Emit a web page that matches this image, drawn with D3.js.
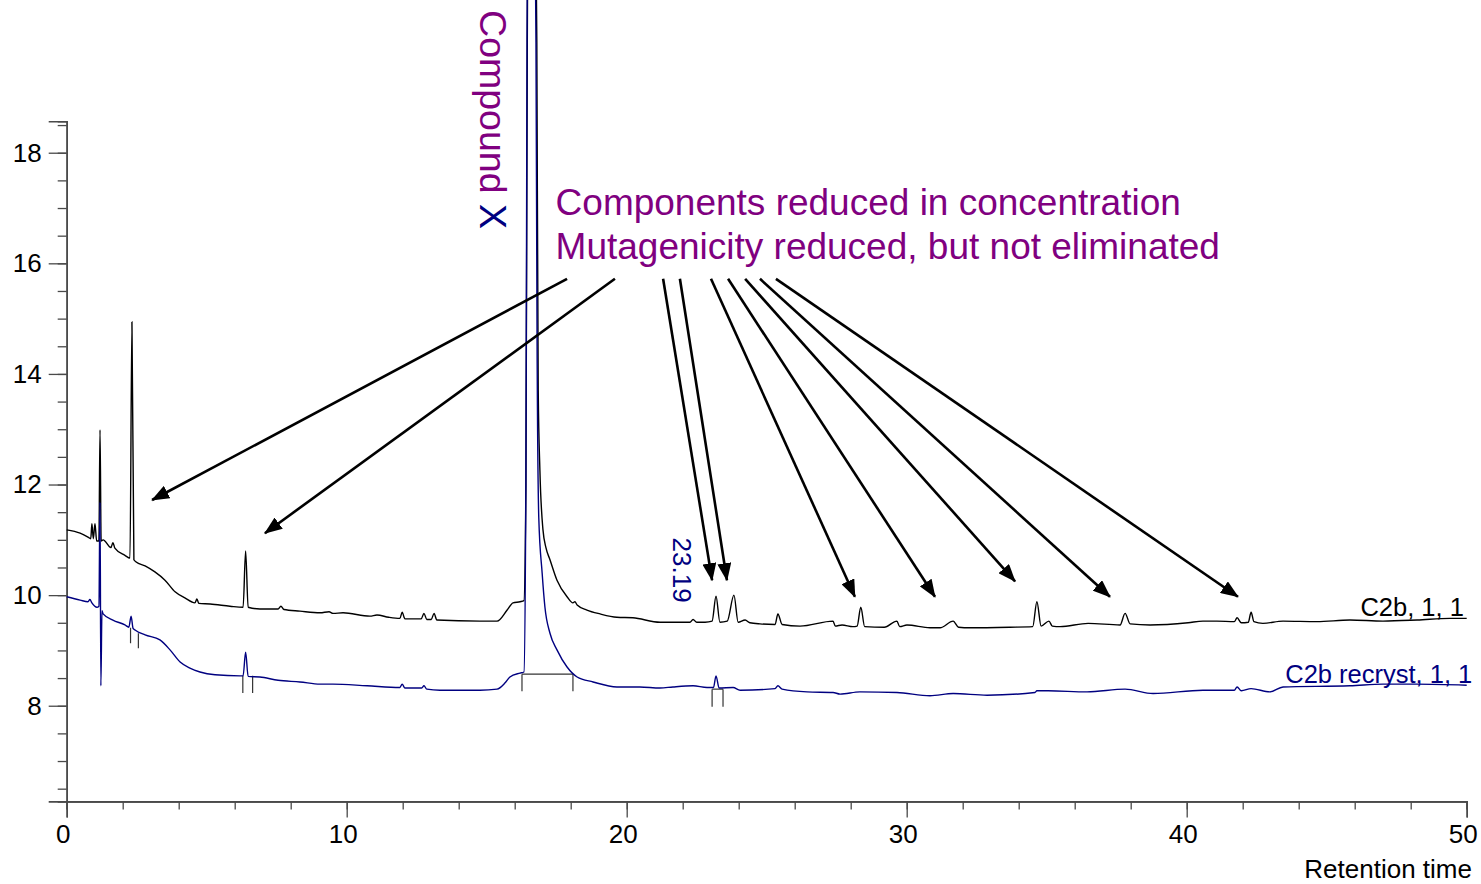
<!DOCTYPE html>
<html>
<head>
<meta charset="utf-8">
<script src="https://cdn.jsdelivr.net/npm/d3@7"></script>
<style>
  html, body { margin: 0; padding: 0; background: #fff; }
  svg { display: block; font-family: "Liberation Sans", Arial, sans-serif; }
</style>
</head>
<body>
<svg id="chart" width="1481" height="884"></svg>
<script>
// ---------------- DATA ----------------
// Axis domains / ticks
const xDomain = [0, 50];
const yDomain = [6.27, 18.57];
const xMajorTicks = [0, 10, 20, 30, 40, 50];
const xMinorTicks = d3.range(0, 50.01, 2);
const yMajorTicks = [8, 10, 12, 14, 16, 18];
const yMinorTicks = d3.range(6.5, 18.51, 0.5);
const xAxisTitle = "Retention time";

// Trace "C2b, 1, 1" (black): [retention time, signal]
const traceC2b = [
  [0, 11.18], [0.48, 11.12], [0.76, 11.05], [0.86, 11.02], [0.90, 11.29], [0.95, 11.02],
  [1.01, 11.29], [1.07, 10.98], [1.15, 10.98], [1.19, 12.99], [1.23, 10.98], [1.30, 11.00],
  [1.58, 10.86], [1.65, 10.95], [1.72, 10.85], [2.08, 10.72], [2.26, 10.67], [2.33, 14.94],
  [2.40, 10.64], [2.48, 10.60], [2.80, 10.53], [3.15, 10.42], [3.51, 10.27], [3.87, 10.06],
  [4.22, 9.95], [4.58, 9.86], [4.65, 9.93], [4.72, 9.85], [5.12, 9.84], [5.83, 9.80],
  [6.30, 9.78], [6.39, 10.80], [6.48, 9.78], [6.90, 9.75], [7.55, 9.75], [7.65, 9.80],
  [7.76, 9.74], [8.33, 9.71], [9.05, 9.68], [9.37, 9.70], [9.51, 9.67], [9.87, 9.68],
  [10.83, 9.62], [11.08, 9.64], [11.50, 9.60], [11.90, 9.58], [11.98, 9.69], [12.08, 9.57],
  [12.66, 9.57], [12.76, 9.67], [12.86, 9.56], [13.02, 9.56], [13.12, 9.67], [13.22, 9.55],
  [14.76, 9.53], [15.37, 9.53], [15.73, 9.73], [15.94, 9.86], [16.19, 9.88], [16.33, 9.90],
  [16.40, 12.0], [16.45, 20.0], [16.62, 30.0], [16.79, 20.0], [16.84, 13.7], [16.90, 12.26],
  [17.01, 11.18], [17.12, 10.85], [17.26, 10.64], [17.51, 10.27], [17.87, 9.97], [18.08, 9.86],
  [18.15, 9.88], [18.23, 9.82], [18.58, 9.73], [19.05, 9.66], [19.65, 9.60], [20.22, 9.59],
  [21.19, 9.51], [22.26, 9.51], [22.37, 9.56], [22.50, 9.51], [22.80, 9.51], [23.05, 9.53],
  [23.19, 9.98], [23.33, 9.51], [23.59, 9.53], [23.83, 10.00], [23.98, 9.51], [24.23, 9.55],
  [24.40, 9.50], [24.76, 9.48], [25.30, 9.47], [25.40, 9.66], [25.55, 9.47], [26.19, 9.44],
  [27.37, 9.53], [27.45, 9.44], [27.69, 9.46], [28.08, 9.43], [28.23, 9.44], [28.36, 9.78],
  [28.50, 9.43], [29.20, 9.42], [29.65, 9.53], [29.75, 9.43], [30.01, 9.46], [30.83, 9.41],
  [31.19, 9.41], [31.66, 9.53], [31.85, 9.42], [32.26, 9.41], [33.69, 9.42], [34.50, 9.43],
  [34.65, 9.88], [34.80, 9.44], [35.08, 9.53], [35.20, 9.44], [35.48, 9.43], [36.48, 9.49],
  [37.62, 9.46], [37.80, 9.67], [37.98, 9.48], [38.69, 9.46], [40.05, 9.50], [40.58, 9.53],
  [41.08, 9.53], [41.70, 9.52], [41.80, 9.59], [41.95, 9.50], [42.20, 9.51], [42.30, 9.69],
  [42.40, 9.52], [42.72, 9.49], [43.44, 9.53], [44.65, 9.52], [45.83, 9.55], [47.01, 9.53],
  [48.23, 9.55], [49.40, 9.58], [50.0, 9.58]
];

// Trace "C2b recryst, 1, 1" (navy)
const traceRecryst = [
  [0, 9.97], [0.48, 9.91], [0.76, 9.88], [0.83, 9.92], [0.90, 9.86], [1.08, 9.78],
  [1.15, 9.80], [1.19, 11.68], [1.22, 8.36], [1.26, 9.72], [1.30, 9.66], [1.65, 9.55],
  [2.08, 9.46], [2.22, 9.42], [2.30, 9.62], [2.37, 9.40], [2.44, 9.37], [2.80, 9.28],
  [3.33, 9.19], [3.69, 9.01], [4.05, 8.79], [4.40, 8.68], [4.76, 8.61], [5.30, 8.56],
  [6.19, 8.54], [6.30, 8.54], [6.39, 8.97], [6.48, 8.53], [6.90, 8.52], [7.55, 8.46],
  [8.33, 8.43], [9.05, 8.39], [9.51, 8.39], [10.73, 8.36], [11.90, 8.33], [11.98, 8.39],
  [12.08, 8.32], [12.68, 8.32], [12.76, 8.36], [12.86, 8.30], [13.33, 8.28], [14.76, 8.28],
  [15.37, 8.30], [15.65, 8.41], [15.83, 8.52], [16.19, 8.59], [16.33, 8.61], [16.40, 12.0],
  [16.44, 20.0], [16.60, 30.0], [16.76, 20.0], [16.80, 14.5], [16.86, 11.4], [16.98, 10.40],
  [17.08, 9.78], [17.26, 9.31], [17.51, 9.01], [17.87, 8.70], [18.23, 8.52], [18.80, 8.43],
  [19.65, 8.34], [20.47, 8.34], [21.19, 8.32], [21.65, 8.34], [22.37, 8.36], [22.87, 8.33],
  [23.10, 8.33], [23.19, 8.54], [23.30, 8.32], [23.80, 8.33], [24.05, 8.28], [25.30, 8.31],
  [25.40, 8.36], [25.55, 8.30], [26.44, 8.25], [27.37, 8.24], [27.62, 8.21], [28.33, 8.25],
  [29.65, 8.24], [30.83, 8.18], [31.66, 8.22], [32.87, 8.19], [34.58, 8.24], [34.65, 8.27],
  [35.05, 8.27], [36.44, 8.25], [37.80, 8.30], [38.80, 8.22], [40.58, 8.28], [41.70, 8.28],
  [41.80, 8.34], [41.95, 8.27], [42.30, 8.31], [42.97, 8.25], [43.44, 8.34], [45.83, 8.36],
  [47.01, 8.39], [48.23, 8.39], [50.0, 8.37]
];

// Integration markers on the recryst trace: [t1, v1, t2, v2]
const integrationSegments = [
  [16.26, 8.57, 18.08, 8.57], [16.26, 8.57, 16.26, 8.26], [18.08, 8.57, 18.08, 8.26],
  [23.05, 8.30, 23.44, 8.30], [23.05, 8.30, 23.05, 7.98], [23.44, 8.30, 23.44, 7.98],
  [6.29, 8.54, 6.29, 8.23], [6.64, 8.54, 6.64, 8.23],
  [2.28, 9.41, 2.28, 9.13], [2.56, 9.31, 2.56, 9.04]
];

// Annotation arrows: [fromT, fromV, toT, toV]
const arrows = [
  [17.87, 15.72, 3.05, 11.72],
  [19.58, 15.72, 7.08, 11.12],
  [21.30, 15.72, 23.05, 10.27],
  [21.90, 15.72, 23.58, 10.27],
  [23.01, 15.72, 28.15, 9.97],
  [23.62, 15.72, 31.01, 9.97],
  [24.23, 15.72, 33.87, 10.25],
  [24.76, 15.72, 37.26, 9.97],
  [25.33, 15.72, 41.83, 9.97]
];

const annotationLines = [
  "Components reduced in concentration",
  "Mutagenicity reduced, but not eliminated"
];
const traceLabels = ["C2b, 1, 1", "C2b recryst, 1, 1"];
const peakLabel = "23.19";

// ---------------- DRAW ----------------
const svg = d3.select("#chart");
const x = d3.scaleLinear().domain(xDomain).range([66.7, 1466.7]);
const y = d3.scaleLinear().domain(yDomain).range([801.4, 121.2]);
const PURPLE = "#800080", NAVY = "#000080";

// Axes
const axisColor = "#4a4a4a";
const xMinor = svg.append("g").attr("transform", `translate(0,${y(yDomain[0])})`)
  .call(d3.axisBottom(x).tickValues(xMinorTicks).tickSize(8).tickFormat(""));
const xMajor = svg.append("g").attr("transform", `translate(0,${y(yDomain[0])})`)
  .call(d3.axisBottom(x).tickValues(xMajorTicks).tickSize(16).tickPadding(7).tickFormat(d3.format("d")));
const yMinor = svg.append("g").attr("transform", `translate(${x(0)},0)`)
  .call(d3.axisLeft(y).tickValues(yMinorTicks).tickSize(9).tickFormat(""));
const yMajor = svg.append("g").attr("transform", `translate(${x(0)},0)`)
  .call(d3.axisLeft(y).tickValues(yMajorTicks).tickSize(18).tickPadding(7).tickFormat(d3.format("d")));
[xMinor, xMajor, yMinor, yMajor].forEach(g => {
  g.selectAll("path.domain").attr("stroke", axisColor).attr("stroke-width", 1.6);
  g.selectAll(".tick line").attr("stroke", axisColor).attr("stroke-width", 1.3);
  g.selectAll("text").attr("fill", "#000").style("font-size", "26px")
    .style("font-family", '"Liberation Sans", Arial, sans-serif');
});
xMajor.selectAll(".tick text").attr("x", -4);

svg.append("text").attr("x", 1472).attr("y", 878).attr("text-anchor", "end")
  .style("font-size", "26px").attr("fill", "#000").text(xAxisTitle);

// Traces
const line = d3.line().x(d => x(d[0])).y(d => y(d[1])).curve(d3.curveMonotoneX);

// Integration markers
svg.append("g").selectAll("line").data(integrationSegments).join("line")
  .attr("x1", d => x(d[0])).attr("y1", d => y(d[1]))
  .attr("x2", d => x(d[2])).attr("y2", d => y(d[3]))
  .attr("stroke", "#333").attr("stroke-width", 1.2);

svg.append("path").datum(traceC2b).attr("d", line)
  .attr("fill", "none").attr("stroke", "#000").attr("stroke-width", 1.4);
svg.append("path").datum(traceRecryst).attr("d", line)
  .attr("fill", "none").attr("stroke", NAVY).attr("stroke-width", 1.4);

// Trace labels
svg.append("text").attr("x", x(49.9)).attr("y", y(9.62)).attr("text-anchor", "end")
  .style("font-size", "25.5px").attr("fill", "#000").text(traceLabels[0]);
svg.append("text").attr("x", x(50.2)).attr("y", y(8.41)).attr("text-anchor", "end")
  .style("font-size", "25.5px").attr("fill", NAVY).text(traceLabels[1]);

// Peak label 23.19 (rotated)
svg.append("text").attr("transform", `translate(${x(21.65)},${y(11.04)}) rotate(90)`)
  .style("font-size", "26px").attr("fill", NAVY).text(peakLabel);

// Compound X label (rotated)
const cx = svg.append("text").attr("transform", `translate(${x(14.77)},${y(20.58)}) rotate(90)`)
  .style("font-size", "37.5px");
cx.append("tspan").attr("fill", PURPLE).text("Compound ");
cx.append("tspan").attr("fill", NAVY).text("X");

// Annotation text
annotationLines.forEach((t, i) => {
  svg.append("text").attr("x", x(17.46)).attr("y", y(i === 0 ? 16.87 : 16.08))
    .style("font-size", "37px").attr("fill", PURPLE).text(t);
});

// Arrows
svg.append("defs").append("marker").attr("id", "ah")
  .attr("markerUnits", "userSpaceOnUse").attr("markerWidth", 20).attr("markerHeight", 14)
  .attr("viewBox", "0 0 20 14").attr("refX", 17).attr("refY", 7).attr("orient", "auto")
  .append("path").attr("d", "M0,0 L18,7 L0,14 Z").attr("fill", "#000");

svg.append("g").selectAll("line").data(arrows).join("line")
  .attr("x1", d => x(d[0])).attr("y1", d => y(d[1]))
  .attr("x2", d => x(d[2])).attr("y2", d => y(d[3]))
  .attr("stroke", "#000").attr("stroke-width", 2.6)
  .attr("marker-end", "url(#ah)");
</script>
</body>
</html>
